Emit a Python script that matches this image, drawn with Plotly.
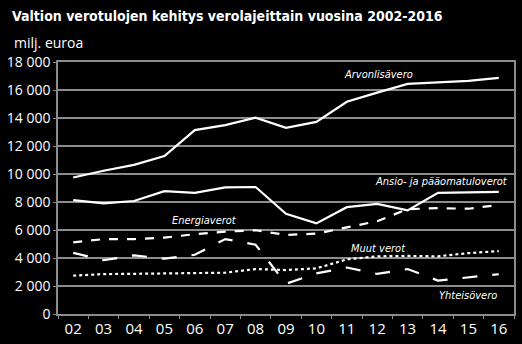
import plotly.graph_objects as go

years = ["02", "03", "04", "05", "06", "07", "08", "09", "10", "11", "12", "13", "14", "15", "16"]
arvonlisavero = [9750, 10230, 10650, 11280, 13140, 13490, 14020, 13300, 13720, 15160, 15810, 16440, 16550, 16650, 16860]
ansio_paaoma = [8140, 7900, 8070, 8770, 8650, 9050, 9070, 7160, 6470, 7630, 7860, 7400, 8650, 8700, 8720]
energiaverot = [5120, 5350, 5350, 5460, 5700, 5880, 5980, 5650, 5740, 6160, 6630, 7490, 7560, 7520, 7790]
yhteisovero = [4370, 3840, 4190, 3950, 4230, 5350, 4950, 2160, 2900, 3320, 2860, 3210, 2390, 2600, 2840]
muut_verot = [2740, 2850, 2870, 2880, 2900, 2950, 3210, 3140, 3260, 3900, 4120, 4150, 4120, 4350, 4490]
y_ticks = [0, 2000, 4000, 6000, 8000, 10000, 12000, 14000, 16000, 18000]

FONT = "DejaVu Sans Condensed"
TICKFONT = "Open Sans, DejaVu Sans, sans-serif"
GRID = "#8c8c8c"

fig = go.Figure()
series = [
    (arvonlisavero, "solid"),
    (ansio_paaoma, "solid"),
    (energiaverot, "dash"),
    (yhteisovero, "longdash"),
    (muut_verot, "dot"),
]
for vals, dash in series:
    fig.add_trace(go.Scatter(
        x=years, y=vals, mode="lines",
        line=dict(color="white", width=2.2, dash=dash),
        showlegend=False, hoverinfo="skip",
    ))

# series names written beside their lines (x as category index)
labels = [
    ("Arvonlisävero", 10.03, 17100),
    ("Ansio- ja pääomatuloverot", 12.1, 9500),
    ("Energiaverot", 4.33, 6700),
    ("Muut verot", 10.03, 4650),
    ("Yhteisövero", 13.0, 1350),
]
for text, xi, yv in labels:
    fig.add_annotation(
        x=xi, y=yv, text=text, showarrow=False,
        font=dict(family=FONT, size=11, color="white", style="italic"),
    )

fig.update_layout(
    width=522, height=344,
    paper_bgcolor="black", plot_bgcolor="black",
    margin=dict(l=58, r=6, t=62, b=23),
    separators=", ",
    title=dict(
        text="<b>Valtion verotulojen kehitys verolajeittain vuosina 2002-2016</b>",
        x=0.023, xanchor="left", y=0.953, yanchor="middle",
        font=dict(family=FONT, size=14, color="white"),
    ),
    xaxis=dict(
        type="category", range=[-0.5, 14.5],
        showgrid=False, showline=True, linecolor=GRID, linewidth=1.5, mirror=True,
        ticks="outside", tickson="boundaries", ticklen=3, tickcolor=GRID,
        tickfont=dict(family=TICKFONT, size=15, color="white"),
        fixedrange=True,
    ),
    yaxis=dict(
        range=[0, 18000], tickvals=y_ticks, tickformat=",d",
        showgrid=True, gridcolor=GRID, gridwidth=1.5,
        showline=True, linecolor=GRID, linewidth=1.5, mirror=True,
        ticks="outside", ticklen=3, tickcolor=GRID,
        tickfont=dict(family=TICKFONT, size=14, color="white"),
        zeroline=False, fixedrange=True,
    ),
)
fig.add_annotation(
    xref="paper", yref="paper", x=-0.1, y=1.03, xanchor="left", yanchor="bottom",
    text="milj. euroa", showarrow=False,
    font=dict(family=TICKFONT, size=14, color="white"),
)

fig.write_html("out.html")
